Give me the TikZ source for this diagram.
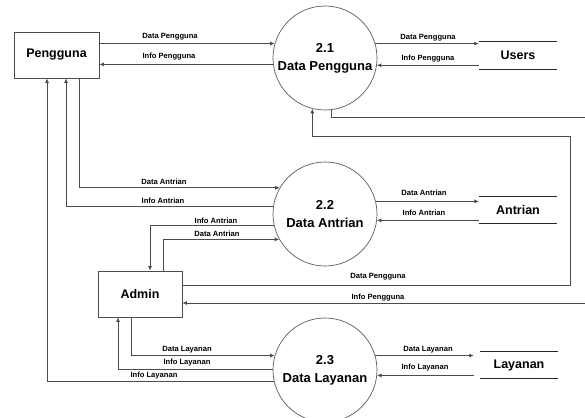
\documentclass[tikz,border=0pt]{standalone}
\usepackage{fontspec}
\setmainfont{Liberation Sans}
\usetikzlibrary{arrows.meta}
\begin{document}
\begin{tikzpicture}[x=1pt,y=-1pt,
  ent/.style={draw=black!70, line width=0.8pt, minimum width=85pt, minimum height=46pt,
    inner sep=0pt, font=\bfseries\fontsize{12.5}{14}\selectfont},
  proc/.style={draw=black!65, line width=0.7pt, circle, minimum size=104pt, inner sep=0pt,
    align=center, font=\bfseries\fontsize{13}{18}\selectfont},
  store/.style={minimum width=78pt, minimum height=27pt, inner sep=0pt,
    font=\bfseries\fontsize{12.5}{14}\selectfont},
  storeline/.style={draw=black!85, line width=1.1pt},
  wire/.style={draw=black!70, line width=0.7pt},
  flow/.style={wire, -{Latex[length=4.5pt,width=4pt]}},
  lbl/.style={font=\bfseries\fontsize{7.6}{8}\selectfont, inner sep=0pt},
]
\useasboundingbox (0,0) rectangle (585,417);
\clip (0,0) rectangle (585,417);

% external entities
\node[ent] (peng) at (56.5,55) {Pengguna};
\node[ent, minimum width=84pt] (adm) at (140,294) {Admin};

% processes
\node[proc] (c1) at (325,58) {2.1\\Data Pengguna};
\node[proc] (c2) at (325,214) {2.2\\Data Antrian};
\node[proc] (c3) at (325,370) {2.3\\Data Layanan};

% data stores
\node[store] (s1) at (518,55.5) {Users};
\node[store] (s2) at (518,210) {Antrian};
\node[store] (s3) at (519,365) {Layanan};
\foreach \s in {s1,s2,s3}
  \draw[storeline] (\s.north west) -- (\s.north east) (\s.south west) -- (\s.south east);

% routing channels
\coordinate (k47) at (47,0);
\coordinate (k66) at (66,0);
\coordinate (k79) at (79,0);
\coordinate (k118) at (118,0);
\coordinate (k131) at (131,0);
\coordinate (k150) at (150,0);
\coordinate (k163) at (163,0);
\coordinate (ra) at (570,285);
\coordinate (rr) at (570,136);
\coordinate (e1) at (585,117);
\coordinate (e2) at (585,303);

% Pengguna <-> 2.1
\draw[flow] (peng.east |- c1.164) -- (c1.164);
\draw[flow] (c1.187) -- (c1.187 -| peng.east);
\node[lbl] (l1) at (170,37) {Data Pengguna};
\node[lbl] (l2) at (169,57) {Info Pengguna};

% 2.1 <-> Users
\draw[flow] (c1.16) -- (c1.16 -| s1.west);
\draw[flow] (c1.352 -| s1.west) -- (c1.352);
\node[lbl] (l3) at (428,38) {Data Pengguna};
\node[lbl] (l4) at (428,59) {Info Pengguna};

% Pengguna <-> 2.2
\draw[flow] (peng.south -| k79) |- (c2.150);
\draw[flow] (c2.172) -| (peng.south -| k66);
\node[lbl] (l5) at (164,182) {Data Antrian};
\node[lbl] (l6) at (163,201) {Info Antrian};

% Admin <-> 2.2
\draw[flow] (c2.193) -| (adm.north -| k150);
\draw[flow] (adm.north -| k163) |- (c2.209);
\node[lbl] (l7) at (216,221) {Info Antrian};
\node[lbl] (l8) at (217,234) {Data Antrian};

% 2.2 <-> Antrian
\draw[flow] (c2.14) -- (c2.14 -| s2.west);
\draw[flow] (c2.353 -| s2.west) -- (c2.353);
\node[lbl] (l9) at (424,193) {Data Antrian};
\node[lbl] (l10) at (424,213) {Info Antrian};

% Admin <-> 2.1
\draw[flow] (adm.east |- ra) -- (ra) -- (rr) -| (c1.256);
\draw[wire] (c1.277) |- (e1);
\draw[flow] (e2) -- (e2 -| adm.east);
\node[lbl] (l11) at (378,277) {Data Pengguna};
\node[lbl] (l12) at (378,298) {Info Pengguna};

% Admin <-> 2.3
\draw[flow] (adm.south -| k131) |- (c3.164);
\draw[flow] (c3.179) -| (adm.south -| k118);
\node[lbl] (l13) at (187,350) {Data Layanan};
\node[lbl] (l14) at (187,363) {Info Layanan};

% 2.3 -> Pengguna
\draw[flow] (c3.193) -| (peng.south -| k47);
\node[lbl] (l15) at (154,376) {Info Layanan};

% 2.3 <-> Layanan
\draw[flow] (c3.16) -- ([xshift=-6pt]c3.16 -| s3.west);
\draw[flow] ([xshift=-6pt]c3.354 -| s3.west) -- (c3.354);
\node[lbl] (l16) at (428,350) {Data Layanan};
\node[lbl] (l17) at (425,368) {Info Layanan};
\end{tikzpicture}
\end{document}
